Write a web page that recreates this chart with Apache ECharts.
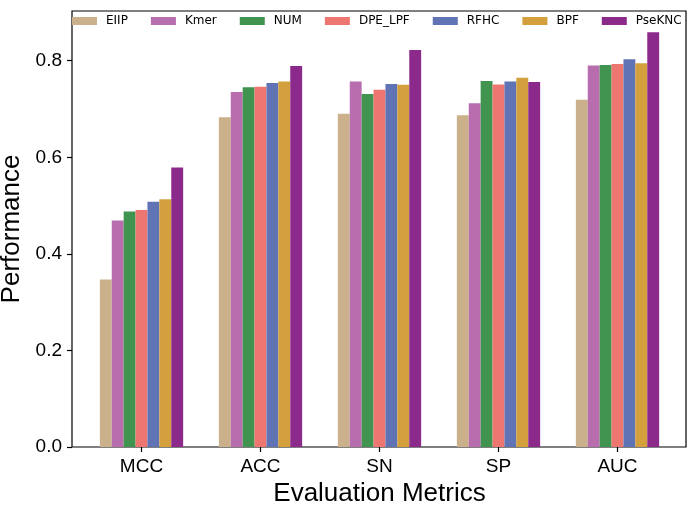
<!DOCTYPE html>
<html>
<head>
<meta charset="utf-8">
<script src="https://cdn.jsdelivr.net/npm/echarts@6/dist/echarts.min.js"></script>
<style>
html, body { margin: 0; padding: 0; background: #fff; }
#chart { width: 695px; height: 506px; }
</style>
</head>
<body>
<div id="chart"></div>
<script>
// categories on the x axis
var metrics = ['MCC', 'ACC', 'SN', 'SP', 'AUC'];
var yTicks = [0, 0.2, 0.4, 0.6, 0.8];

// one array per feature encoding
var EIIP   = [0.347, 0.683, 0.690, 0.687, 0.719];
var Kmer   = [0.469, 0.735, 0.757, 0.712, 0.790];
var NUM    = [0.488, 0.745, 0.731, 0.758, 0.791];
var DPE_LPF = [0.491, 0.746, 0.740, 0.751, 0.793];
var RFHC   = [0.508, 0.754, 0.752, 0.757, 0.803];
var BPF    = [0.513, 0.757, 0.750, 0.765, 0.795];
var PseKNC = [0.579, 0.789, 0.822, 0.756, 0.859];

var names = ['EIIP', 'Kmer', 'NUM', 'DPE_LPF', 'RFHC', 'BPF', 'PseKNC'];
var values = [EIIP, Kmer, NUM, DPE_LPF, RFHC, BPF, PseKNC];
var colors = ['#cbb08c', '#b86eae', '#41944f', '#ed7670', '#5f73b5', '#d3a03d', '#8c2a8c'];

var yMax = 0.903;
var axisFont = 'Liberation Sans, Arial, sans-serif';

var chart = echarts.init(document.getElementById('chart'));

var series = names.map(function (n, i) {
    return {
        name: n,
        type: 'bar',
        xAxisIndex: 1,
        yAxisIndex: 1,
        data: values[i],
        barGap: '0%',
        barCategoryGap: '30%',
        itemStyle: { color: colors[i] }
    };
});

var option = {
    animation: false,
    backgroundColor: '#fff',
    color: colors,
    legend: {
        left: 72,
        top: 15,
        padding: 0,
        itemWidth: 25,
        itemHeight: 8,
        itemGap: 23,
        icon: 'rect',
        textStyle: {
            fontFamily: 'DejaVu Sans',
            fontSize: 12,
            color: '#000',
            padding: [0, 0, 0, 4]
        },
        data: names
    },
    grid: [
        { // frame + y axis
            left: 72, right: 9, top: 11, bottom: 59,
            outerBoundsMode: 'none',
            show: true, borderColor: '#000', borderWidth: 1.2
        },
        { // bars
            left: 82, right: 18, top: 11, bottom: 59,
            outerBoundsMode: 'none'
        }
    ],
    xAxis: [
        { type: 'value', gridIndex: 0, show: false, min: 0, max: 1 },
        {
            type: 'category',
            gridIndex: 1,
            data: metrics,
            name: 'Evaluation Metrics',
            nameLocation: 'middle',
            nameGap: 32,
            nameTextStyle: { fontFamily: axisFont, fontSize: 26, color: '#000' },
            axisLine: { show: false },
            axisTick: { show: true, alignWithLabel: true, length: 5, lineStyle: { color: '#000', width: 1.2 } },
            axisLabel: { fontFamily: axisFont, fontSize: 19, color: '#000', margin: 10 }
        }
    ],
    yAxis: [
        {
            type: 'value',
            gridIndex: 0,
            min: 0,
            max: yMax,
            name: 'Performance',
            nameLocation: 'middle',
            nameGap: 40,
            nameTextStyle: { fontFamily: axisFont, fontSize: 26, color: '#000' },
            splitLine: { show: false },
            axisLine: { show: false },
            axisTick: { show: true, length: 5, customValues: yTicks, lineStyle: { color: '#000', width: 1.2 } },
            axisLabel: {
                fontFamily: axisFont, fontSize: 19, color: '#000', margin: 10,
                customValues: yTicks,
                formatter: function (v) { return v.toFixed(1); }
            }
        },
        { type: 'value', gridIndex: 1, show: false, min: 0, max: yMax, splitLine: { show: false } }
    ],
    series: series
};

chart.setOption(option);
</script>
</body>
</html>
